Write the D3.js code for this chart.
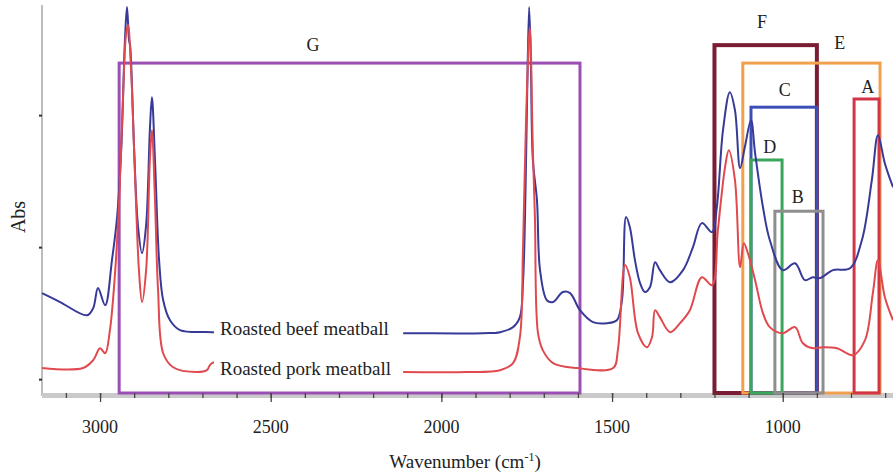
<!DOCTYPE html>
<html>
<head>
<meta charset="utf-8">
<script src="https://cdn.jsdelivr.net/npm/d3@7"></script>
<style>
  html, body { margin: 0; padding: 0; background: #fff; }
  svg { display: block; }
  svg text { font-family: "Liberation Serif", "Times New Roman", serif; fill: #222; }
</style>
</head>
<body>
<svg id="chart" width="893" height="474"></svg>
<script>
// ---- Data (wavenumber in cm-1, absorbance in arbitrary units) ----
const beefWavenumber = [3170,3117,3038,3020,3006,2985,2965,2950,2938,2927,2921,2915,2912,2900,2889,2877,2865,2854,2848,2839,2827,2815,2795,2766,2672,2414,2112,1878,1828,1790,1770,1761,1755,1749,1743,1738,1732,1720,1711,1691,1673,1644,1623,1594,1556,1515,1486,1471,1459,1448,1433,1418,1404,1389,1374,1360,1330,1292,1263,1237,1207,1193,1175,1155,1140,1125,1111,1093,1081,1058,1038,1000,964,935,912,891,853,803,768,739,721,701,677];
const beefAbs = [0.326,0.292,0.242,0.269,0.345,0.280,0.451,0.614,0.867,1.284,1.409,1.284,1.265,0.867,0.583,0.477,0.583,0.943,1.068,0.830,0.451,0.299,0.223,0.186,0.178,0.175,0.174,0.174,0.178,0.197,0.235,0.364,0.614,1.057,1.409,1.208,0.830,0.678,0.413,0.299,0.292,0.330,0.326,0.261,0.216,0.212,0.223,0.299,0.614,0.576,0.451,0.364,0.330,0.348,0.443,0.413,0.367,0.413,0.500,0.591,0.557,0.652,0.943,1.087,1.019,0.799,0.879,0.981,0.856,0.652,0.527,0.413,0.439,0.375,0.386,0.383,0.413,0.420,0.527,0.754,0.924,0.818,0.727];

const porkWavenumber = [3170,3050,3020,3000,2985,2971,2956,2944,2933,2924,2918,2909,2897,2886,2877,2865,2854,2848,2839,2830,2815,2786,2716,2687,2672,2400,2112,1925,1828,1790,1770,1761,1752,1741,1732,1726,1717,1703,1673,1603,1497,1483,1462,1448,1424,1398,1383,1374,1360,1330,1301,1272,1237,1207,1190,1169,1158,1140,1125,1114,1102,1081,1058,1038,1000,964,941,912,882,841,794,759,736,721,701,677];
const porkAbs = [0.042,0.042,0.072,0.117,0.098,0.186,0.402,0.678,1.057,1.303,1.341,1.170,0.754,0.413,0.292,0.413,0.830,0.943,0.678,0.337,0.098,0.045,0.027,0.034,0.061,0.030,0.027,0.027,0.034,0.061,0.159,0.489,0.981,1.333,0.867,0.614,0.174,0.110,0.061,0.042,0.042,0.110,0.432,0.386,0.174,0.121,0.159,0.261,0.235,0.178,0.212,0.261,0.386,0.356,0.564,0.803,0.867,0.754,0.424,0.515,0.477,0.375,0.250,0.197,0.174,0.197,0.136,0.117,0.121,0.117,0.091,0.148,0.326,0.451,0.311,0.223];

const seriesNames = ["Roasted beef meatball", "Roasted pork meatball"];

// Highlighted spectral regions
const regionLabels = ["G", "F", "E", "C", "D", "B", "A"];
const regionFrom   = [2944, 1200, 1117, 1093, 1093, 1023, 791];
const regionTo     = [1594,  900,  715,  900, 1002,  882, 718];
const regionTop    = [1.197, 1.265, 1.197, 1.030, 0.830, 0.636, 1.061];
const regionLabelW = [2376, 1061, 833, 994, 1038, 956, 751];
const regionLabelA = [1.242, 1.330, 1.250, 1.072, 0.856, 0.667, 1.083];

const majorTicks = [3000, 2500, 2000, 1500, 1000];
const tickLabels = ["3000", "2500", "2000", "1500", "1000"];
const minorTicks = d3.range(3100, 699, -100);
const yTicks = [0, 0.5, 1];

// ---- Styles ----
const regionColors = ["#9b4fb4", "#7a1c34", "#f2a04e", "#3c4fb6", "#3aa65b", "#8e8e8e", "#d23646"];
const regionWidths = [3, 4, 3, 3, 3, 3, 3];
const seriesColors = ["#383a98", "#e04a4f"];

const svg = d3.select("#chart");
const x = d3.scaleLinear().domain([3170, 677]).range([42, 893]);
const y = d3.scaleLinear().domain([-0.06, 1.417]).range([395, 5]);
const axisY = 393;

// left axis line
svg.append("line")
  .attr("x1", 42).attr("x2", 42).attr("y1", 5).attr("y2", 396)
  .attr("stroke", "#bdbdbd").attr("stroke-width", 2);

// y ticks (no labels)
const yAxis = svg.append("g").attr("transform", "translate(42,0)")
  .call(d3.axisLeft(y).tickValues(yTicks).tickFormat("").tickSize(3));
yAxis.select(".domain").remove();
yAxis.selectAll("line").attr("stroke", "#333").attr("stroke-width", 2);

// bottom band
svg.append("line")
  .attr("x1", 42).attr("x2", 893).attr("y1", 395.5).attr("y2", 395.5)
  .attr("stroke", "#cacaca").attr("stroke-width", 5);

// regions (boxes)
const regionIdx = d3.range(regionLabels.length);
const boxes = svg.append("g");
regionIdx.forEach(i => {
  const x0 = x(regionFrom[i]), x1 = x(regionTo[i]), yt = y(regionTop[i]);
  boxes.append("rect")
    .attr("x", x0).attr("y", yt)
    .attr("width", x1 - x0).attr("height", axisY - yt)
    .attr("fill", "none")
    .attr("stroke", regionColors[i])
    .attr("stroke-width", regionWidths[i]);
  boxes.append("text")
    .attr("x", x(regionLabelW[i])).attr("y", y(regionLabelA[i]))
    .attr("text-anchor", "middle")
    .attr("font-size", 18)
    .text(regionLabels[i]);
});

// spectra
const line = d3.line().x(d => x(d[0])).y(d => y(d[1])).curve(d3.curveCatmullRom.alpha(0.5));
const beef = beefWavenumber.map((w, i) => [w, beefAbs[i]]);
const pork = porkWavenumber.map((w, i) => [w, porkAbs[i]]);
[beef, pork].forEach((s, i) => {
  svg.append("path").datum(s)
    .attr("d", line)
    .attr("fill", "none")
    .attr("stroke", seriesColors[i])
    .attr("stroke-width", 2)
    .attr("stroke-linejoin", "round");
});

// in-plot legend labels, masking the spectra behind them
svg.append("rect")
  .attr("x", x(2672) + 2).attr("y", 314)
  .attr("width", x(2112) - x(2672) - 2).attr("height", 68)
  .attr("fill", "#fff");
seriesNames.forEach((n, i) => {
  svg.append("text")
    .attr("x", 220).attr("y", [335, 375][i])
    .attr("font-size", 19)
    .text(n);
});

// x axis ticks
const minorAxis = svg.append("g").attr("transform", `translate(0,${axisY})`)
  .call(d3.axisBottom(x).tickValues(minorTicks).tickFormat("").tickSize(5));
minorAxis.select(".domain").remove();
minorAxis.selectAll("line").attr("stroke", "#444").attr("stroke-width", 1.3);

const majorAxis = svg.append("g").attr("transform", `translate(0,${axisY})`)
  .call(d3.axisBottom(x).tickValues(majorTicks).tickFormat("").tickSize(9));
majorAxis.select(".domain").remove();
majorAxis.selectAll("line").attr("stroke", "#444").attr("stroke-width", 1.3);

svg.append("g").selectAll("text")
  .data(majorTicks)
  .join("text")
  .attr("x", d => x(d))
  .attr("y", axisY + 40)
  .attr("text-anchor", "middle")
  .attr("font-size", 18)
  .text((d, i) => tickLabels[i]);

// axis titles
const xt = svg.append("text")
  .attr("x", 465).attr("y", 468)
  .attr("text-anchor", "middle")
  .attr("font-size", 19);
xt.append("tspan").text("Wavenumber (cm");
xt.append("tspan").attr("dy", -7).attr("font-size", 12).text("-1");
xt.append("tspan").attr("dy", 7).text(")");

svg.append("text")
  .attr("transform", "translate(25,217) rotate(-90)")
  .attr("text-anchor", "middle")
  .attr("font-size", 20)
  .text("Abs");
</script>
</body>
</html>
